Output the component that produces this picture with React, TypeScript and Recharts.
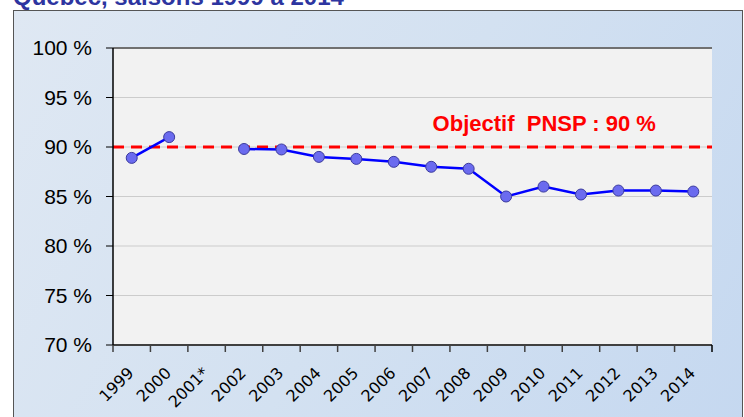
import React from 'react';
import {
  LineChart,
  Line,
  XAxis,
  YAxis,
  CartesianGrid,
  ReferenceLine
} from 'recharts';

const years = ['1999', '2000', '2001*', '2002', '2003', '2004', '2005', '2006', '2007', '2008', '2009', '2010', '2011', '2012', '2013', '2014'];
const coverage = [88.9, 91.0, null, 89.8, 89.75, 89.0, 88.8, 88.5, 88.0, 87.8, 85.0, 86.0, 85.2, 85.6, 85.6, 85.5];
const yTicks = [70, 75, 80, 85, 90, 95, 100];
const target = 90;

const data = years.map((year, i) => ({ year, value: coverage[i] }));

// plot is 599px wide, one band per year
const BAND = 599 / years.length;

const XTick = (props: any) => {
  const { x, y, payload, index } = props;
  const half = BAND / 2;
  const tx = x + 3;
  const ty = y + 29;
  return (
    <g>
      <line x1={x - half} x2={x - half} y1={y} y2={y + 7} stroke="#404040" strokeWidth={1.5} />
      {index === years.length - 1 && (
        <line x1={x + half} x2={x + half} y1={y} y2={y + 7} stroke="#000" strokeWidth={1.5} />
      )}
      <text
        x={tx}
        y={ty}
        transform={`rotate(-45 ${tx} ${ty})`}
        textAnchor="end"
        fontSize={16}
        fontFamily="'DejaVu Sans', sans-serif"
        fill="#000"
      >
        {payload.value}
      </text>
    </g>
  );
};

const TargetLabel = (props: any) => {
  const { viewBox } = props;
  if (!viewBox) return null;
  return (
    <text
      x={viewBox.x + viewBox.width * 0.72}
      y={viewBox.y - 16}
      textAnchor="middle"
      fontSize={22}
      fontWeight="bold"
      fontFamily="'Liberation Sans', Arial, sans-serif"
      fill="#ff0000"
      style={{ whiteSpace: 'pre' }}
    >
      {'Objectif  PNSP : 90 %'}
    </text>
  );
};

export default function App() {
  return (
    <div style={{ position: 'absolute', left: 0, top: 0, width: 744, height: 417, overflow: 'hidden', background: '#fff' }}>
      <div
        style={{
          position: 'absolute',
          left: 13,
          top: -14,
          fontFamily: "'Liberation Sans', Arial, sans-serif",
          fontWeight: 'bold',
          fontSize: 24,
          lineHeight: '22px',
          color: '#2d35a0',
          whiteSpace: 'nowrap'
        }}
      >
        Québec, saisons 1999 à 2014
      </div>
      <div
        style={{
          position: 'absolute',
          left: 13,
          top: 10,
          width: 728,
          height: 420,
          border: '1px solid #555',
          background: 'linear-gradient(120deg, #dfe8f3 0%, #d3e1f1 50%, #c5d8f0 100%)'
        }}
      >
        <LineChart
          width={728}
          height={406}
          data={data}
          margin={{ top: 37, right: 30, left: 9, bottom: 12 }}
        >
          <CartesianGrid vertical={false} fill="#f2f2f2" stroke="#cccccc" />
          <XAxis
            dataKey="year"
            interval={0}
            padding={{ left: BAND / 2, right: BAND / 2 }}
            tickLine={false}
            tickSize={0}
            tickMargin={0}
            height={60}
            axisLine={{ stroke: '#404040', strokeWidth: 2 }}
            tick={<XTick />}
          />
          <YAxis
            domain={[70, 100]}
            ticks={yTicks}
            width={90}
            tickFormatter={(v: number) => `${v} %`}
            tickSize={7}
            tickMargin={14}
            tick={{ fontSize: 21, fill: '#000', fontFamily: "'Liberation Sans', Arial, sans-serif" }}
            axisLine={{ stroke: '#000', strokeWidth: 1.5 }}
            tickLine={{ stroke: '#000' }}
          />
          <YAxis
            yAxisId="right"
            orientation="right"
            width={0}
            tick={false}
            tickLine={false}
            axisLine={{ stroke: '#000', strokeWidth: 1.5 }}
          />
          <ReferenceLine y={100} stroke="#707070" strokeWidth={2} />
          <ReferenceLine
            y={target}
            stroke="#ff0000"
            strokeWidth={3}
            strokeDasharray="11 7"
            label={<TargetLabel />}
          />
          <Line
            type="linear"
            dataKey="value"
            stroke="#0000ff"
            strokeWidth={2.5}
            connectNulls={false}
            dot={{ r: 5.5, fill: '#6b6bef', stroke: '#3b3b9e', strokeWidth: 1 }}
            isAnimationActive={false}
          />
        </LineChart>
      </div>
    </div>
  );
}
